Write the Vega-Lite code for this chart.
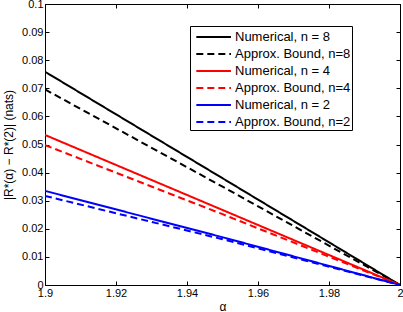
{
  "$schema": "https://vega.github.io/schema/vega-lite/v6.json",
  "width": 355,
  "height": 281,
  "autosize": {"type": "none"},
  "padding": {"left": 45, "top": 4, "right": 3, "bottom": 27},
  "background": "white",
  "config": {
    "font": "Liberation Sans",
    "view": {"stroke": "black", "strokeWidth": 1},
    "axis": {
      "grid": false,
      "domainColor": "black",
      "tickColor": "black",
      "tickSize": -4,
      "labelColor": "black",
      "labelFontSize": 11,
      "labelFont": "Liberation Sans",
      "titleColor": "black",
      "titleFont": "Liberation Sans",
      "titleFontWeight": "normal",
      "titleFontSize": 12
    }
  },
  "data": {
    "values": [
      {"alpha": 1.9, "value": 0.0759, "series": "Numerical, n = 8"},
      {"alpha": 1.95, "value": 0.0380, "series": "Numerical, n = 8"},
      {"alpha": 2.0, "value": 0.0, "series": "Numerical, n = 8"},
      {"alpha": 1.9, "value": 0.0696, "series": "Approx. Bound, n=8"},
      {"alpha": 1.95, "value": 0.0350, "series": "Approx. Bound, n=8"},
      {"alpha": 2.0, "value": 0.0, "series": "Approx. Bound, n=8"},
      {"alpha": 1.9, "value": 0.0534, "series": "Numerical, n = 4"},
      {"alpha": 1.95, "value": 0.0267, "series": "Numerical, n = 4"},
      {"alpha": 2.0, "value": 0.0, "series": "Numerical, n = 4"},
      {"alpha": 1.9, "value": 0.0498, "series": "Approx. Bound, n=4"},
      {"alpha": 1.95, "value": 0.0252, "series": "Approx. Bound, n=4"},
      {"alpha": 2.0, "value": 0.0, "series": "Approx. Bound, n=4"},
      {"alpha": 1.9, "value": 0.0335, "series": "Numerical, n = 2"},
      {"alpha": 1.95, "value": 0.0170, "series": "Numerical, n = 2"},
      {"alpha": 2.0, "value": 0.0, "series": "Numerical, n = 2"},
      {"alpha": 1.9, "value": 0.0317, "series": "Approx. Bound, n=2"},
      {"alpha": 1.95, "value": 0.0163, "series": "Approx. Bound, n=2"},
      {"alpha": 2.0, "value": 0.0, "series": "Approx. Bound, n=2"}
    ]
  },
  "layer": [
    {
      "mark": {"type": "line", "strokeWidth": 2, "clip": true},
      "encoding": {
        "x": {
          "field": "alpha", "type": "quantitative",
          "scale": {"domain": [1.9, 2.0], "nice": false, "zero": false},
          "axis": {"orient": "bottom", "title": "α", "values": [1.9, 1.92, 1.94, 1.96, 1.98, 2.0], "format": "~g", "labelPadding": 6, "titlePadding": 3, "labelFlush": false}
        },
        "y": {
          "field": "value", "type": "quantitative",
          "scale": {"domain": [0, 0.1], "nice": false},
          "axis": {"orient": "left", "title": "|R*(α) − R*(2)| (nats)", "values": [0, 0.01, 0.02, 0.03, 0.04, 0.05, 0.06, 0.07, 0.08, 0.09, 0.1], "format": "~g", "labelPadding": 6, "titlePadding": 6}
        },
        "color": {
          "field": "series", "type": "nominal",
          "scale": {
            "domain": ["Numerical, n = 8", "Approx. Bound, n=8", "Numerical, n = 4", "Approx. Bound, n=4", "Numerical, n = 2", "Approx. Bound, n=2"],
            "range": ["#000000", "#000000", "#ff0000", "#ff0000", "#0000ff", "#0000ff"]
          },
          "legend": {
            "title": null,
            "orient": "none",
            "legendX": 145,
            "legendY": 22,
            "symbolType": "M-0.54,0H3.46",
            "symbolSize": 300,
            "symbolStrokeWidth": 2,
            "labelFontSize": 13,
            "labelFont": "Liberation Sans",
            "labelColor": "black",
            "labelOffset": 24,
            "labelExpr": "datum.label + '\u00a0\u00a0\u00a0\u00a0\u00a0\u00a0\u00a0\u00a0\u00a0\u00a0'",
            "rowPadding": 0,
            "padding": 1,
            "strokeColor": "black",
            "fillColor": "white",
            "cornerRadius": 0
          }
        },
        "strokeDash": {
          "field": "series", "type": "nominal",
          "scale": {
            "domain": ["Numerical, n = 8", "Approx. Bound, n=8", "Numerical, n = 4", "Approx. Bound, n=4", "Numerical, n = 2", "Approx. Bound, n=2"],
            "range": [[1, 0], [7, 4], [1, 0], [7, 4], [1, 0], [7, 4]]
          },
          "legend": null
        }
      }
    },
    {
      "mark": {"type": "line", "strokeOpacity": 0},
      "encoding": {
        "x": {
          "field": "alpha", "type": "quantitative",
          "axis": {"orient": "top", "title": null, "labels": false, "values": [1.9, 1.92, 1.94, 1.96, 1.98, 2.0]}
        },
        "y": {
          "field": "value", "type": "quantitative",
          "axis": {"orient": "right", "title": null, "labels": false, "values": [0, 0.01, 0.02, 0.03, 0.04, 0.05, 0.06, 0.07, 0.08, 0.09, 0.1]}
        },
        "detail": {"field": "series", "type": "nominal"}
      }
    }
  ]
}
